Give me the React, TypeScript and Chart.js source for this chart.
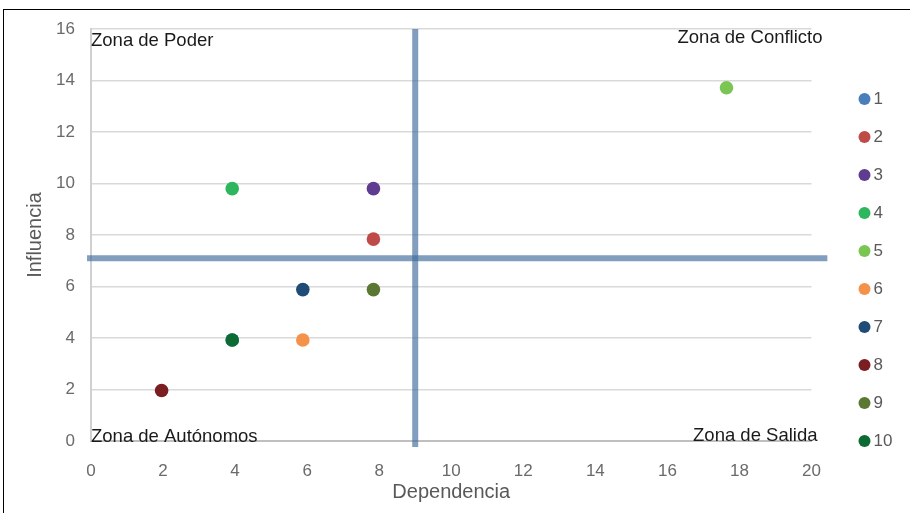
import { useEffect, useRef } from 'react';
import { Chart, registerables } from 'chart.js';

Chart.register(...registerables);

// ---- Data ----
const labels = ['1', '2', '3', '4', '5', '6', '7', '8', '9', '10'];
const dependencia = [3.92, 7.84, 7.84, 3.92, 17.64, 5.88, 5.88, 1.96, 7.84, 3.92];
const influencia = [3.92, 7.84, 9.8, 9.8, 13.72, 3.92, 5.88, 1.96, 5.88, 3.92];
const colores = ['#4a7ebb', '#be4b48', '#5e3c8f', '#2db65e', '#7bc653', '#f5924a', '#1f4b77', '#7a1e22', '#5a7833', '#0c6a32'];
const umbralDependencia = 9;
const umbralInfluencia = 7.1;
const xRango = [0, 20];
const yRango = [0, 16];
const paso = 2;
const zonas = ['Zona de Poder', 'Zona de Conflicto', 'Zona de Autónomos', 'Zona de Salida'];
const tituloX = 'Dependencia';
const tituloY = 'Influencia';

const FAMILY = '"Liberation Sans", Arial, Helvetica, sans-serif';

const zonasPlugin = {
  id: 'zonas',
  afterDatasetsDraw(chart: any) {
    const { ctx, chartArea: a } = chart;
    ctx.save();
    ctx.font = `18.5px ${FAMILY}`;
    ctx.fillStyle = '#1a1a1a';
    ctx.textBaseline = 'alphabetic';
    ctx.textAlign = 'left';
    ctx.fillText(zonas[0], a.left, a.top + 17);
    ctx.fillText(zonas[2], a.left, a.bottom + 0.5);
    ctx.textAlign = 'right';
    ctx.fillText(zonas[1], a.right + 11, a.top + 13.7);
    ctx.fillText(zonas[3], a.right + 6, a.bottom);
    ctx.restore();
  },
};

export default function App() {
  const ref = useRef<HTMLCanvasElement | null>(null);

  useEffect(() => {
    if (!ref.current) return;
    const lineColor = 'rgba(63,106,155,0.65)';
    const puntos = labels.map((lab, i) => ({
      type: 'scatter' as const,
      label: lab,
      data: [{ x: dependencia[i], y: influencia[i] }],
      backgroundColor: colores[i],
      borderColor: colores[i],
      pointBackgroundColor: colores[i],
      pointBorderColor: colores[i],
      pointRadius: 6.8,
      pointBorderWidth: 0,
      borderWidth: 0,
      xAxisID: 'x',
      yAxisID: 'y',
      order: i === 0 ? 2 : 1,
    }));
    const lineas = [
      {
        type: 'line' as const,
        label: 'v',
        data: [
          { x: umbralDependencia, y: yRango[0] - 0.23 },
          { x: umbralDependencia, y: yRango[1] },
        ],
        borderColor: lineColor,
        backgroundColor: lineColor,
        borderWidth: 6,
        pointRadius: 0,
        fill: false,
        clip: false,
        xAxisID: 'x',
        yAxisID: 'y',
        order: 0,
      },
      {
        type: 'line' as const,
        label: 'h',
        data: [
          { x: xRango[0] - 0.11, y: umbralInfluencia },
          { x: xRango[1] + 0.44, y: umbralInfluencia },
        ],
        borderColor: lineColor,
        backgroundColor: lineColor,
        borderWidth: 6,
        pointRadius: 0,
        fill: false,
        clip: false,
        xAxisID: 'x',
        yAxisID: 'y',
        order: 0,
      },
    ];

    const chart = new Chart(ref.current, {
      type: 'scatter',
      data: { datasets: [...puntos, ...lineas] as any },
      options: {
        animation: false,
        responsive: false,
        events: [],
        layout: { padding: { top: 29, right: 12, bottom: 2, left: 0 } },
        font: { family: FAMILY },
        plugins: {
          tooltip: { enabled: false },
          legend: {
            display: true,
            position: 'right',
            maxWidth: 55,
            labels: {
              usePointStyle: true,
              pointStyle: 'circle',
              boxWidth: 1,
              boxHeight: 8.5,
              padding: 21,
              color: '#595959',
              font: { size: 17, family: FAMILY },
              filter: (item: any) => item.datasetIndex < labels.length,
              sort: (a: any, b: any) => a.datasetIndex - b.datasetIndex,
            },
          },
        },
        scales: {
          x: {
            type: 'linear',
            position: 'bottom',
            min: xRango[0],
            max: xRango[1],
            afterFit: (s: any) => {
              s.height = 70;
            },
            ticks: {
              stepSize: paso,
              padding: 12,
              color: '#6a6a6a',
              font: { size: 17, family: FAMILY },
            },
            grid: { display: false },
            border: { display: true, color: '#bfbfbf', width: 2 },
            title: {
              display: true,
              text: tituloX,
              color: '#595959',
              font: { size: 20, family: FAMILY },
              padding: { top: 4, bottom: 7 },
            },
          },
          y: {
            type: 'linear',
            position: 'left',
            min: yRango[0],
            max: yRango[1],
            afterFit: (s: any) => {
              s.width = 91;
            },
            ticks: {
              stepSize: paso,
              padding: 16,
              color: '#6a6a6a',
              font: { size: 17, family: FAMILY },
            },
            grid: { color: '#d9d9d9', lineWidth: 1.5, drawTicks: false },
            border: { display: true, color: '#d0d0d0', width: 2 },
            title: {
              display: true,
              text: tituloY,
              color: '#595959',
              font: { size: 20, family: FAMILY },
              padding: { top: 23.5, bottom: 0 },
            },
          },
          gap: {
            type: 'linear',
            axis: 'y',
            position: 'right',
            display: true,
            afterFit: (s: any) => {
              s.width = 31.5;
            },
            ticks: { display: false },
            grid: { display: false },
            border: { display: false },
          },
        },
      } as any,
      plugins: [zonasPlugin],
    });
    return () => chart.destroy();
  }, []);

  return (
    <>
      <div
        style={{
          position: 'fixed',
          left: 3,
          top: 9,
          width: 907,
          height: 504,
          borderTop: '1px solid #000',
          borderLeft: '1px solid #000',
          zIndex: 0,
        }}
      />
      <div style={{ position: 'fixed', left: 0, top: 0, width: 910, height: 513, zIndex: 1 }}>
        <canvas ref={ref} width={910} height={513} style={{ display: 'block' }} />
      </div>
    </>
  );
}
